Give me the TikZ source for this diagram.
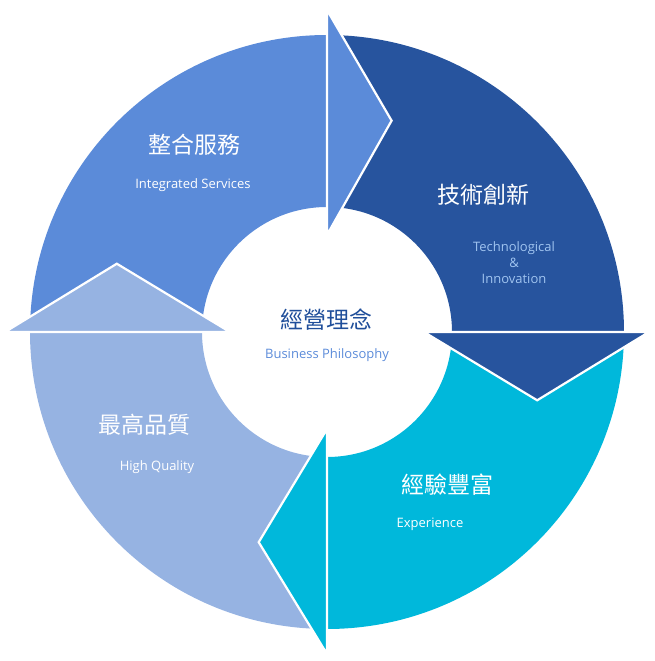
\documentclass[tikz,border=0pt]{standalone}
\usepackage{fontspec}
\setmainfont{Open Sans}
\newfontfamily\cjk{Noto Sans CJK TC}
\definecolor{blueSeg}{RGB}{91,139,217}
\definecolor{darkSeg}{RGB}{39,84,158}
\definecolor{cyanSeg}{RGB}{0,184,219}
\definecolor{lightSeg}{RGB}{150,179,226}
\definecolor{centerBlue}{RGB}{31,78,154}
\definecolor{techText}{RGB}{160,196,240}
\tikzset{cjklabel/.style={font=\cjk\fontsize{23}{26}\selectfont, text=white, inner sep=0pt}}
\tikzset{enlabel/.style={font=\fontsize{13}{15}\selectfont, text=white, inner sep=0pt, align=center}}
\tikzset{headline/.style={draw=white, line width=2.2pt, line join=miter}}
\newcommand{\bandpart}[3]{%
  \fill[#3] (#1:297pt) arc[start angle=#1, end angle=#2, radius=297pt]
    -- (#2:125pt) arc[start angle=#2, end angle=#1, radius=125pt] -- cycle;}
\newcommand{\headpart}[3]{%
  \filldraw[headline, fill=#3] (#1:322pt) -- (#2:221pt) -- (#1:97pt) -- cycle;}
\begin{document}
\begin{tikzpicture}[x=1pt, y=1pt]
	\useasboundingbox (-327,-329) rectangle (328,332);
	% Bands
	\bandpart{180}{90}{blueSeg}
	\bandpart{90}{0}{darkSeg}
	\bandpart{0}{-90}{cyanSeg}
	\bandpart{-90}{-180}{lightSeg}
	% Heads
	\headpart{90}{73}{blueSeg}
	\headpart{0}{-18}{darkSeg}
	\headpart{-90}{-108}{cyanSeg}
	\headpart{180}{162}{lightSeg}
	% Labels
	\node (integration) [cjklabel] at (-132,187) {整合服務};
	\node (integrationen) [enlabel] at (-134,147) {Integrated Services};
	\node (technology) [cjklabel] at (156,137) {技術創新};
	\node (technologyen) [enlabel, text=techText] at (187,69) {Technological\\[1pt]\&\\[1pt]Innovation};
	\node (philosophy) [cjklabel, text=centerBlue] at (0,12) {經營理念};
	\node (philosophyen) [enlabel, text=blueSeg] at (0,-23) {Business Philosophy};
	\node (quality) [cjklabel] at (-182,-93) {最高品質};
	\node (qualityen) [enlabel] at (-170,-135) {High Quality};
	\node (experience) [cjklabel] at (120,-153) {經驗豐富};
	\node (experienceen) [enlabel] at (103,-192) {Experience};
\end{tikzpicture}
\end{document}
